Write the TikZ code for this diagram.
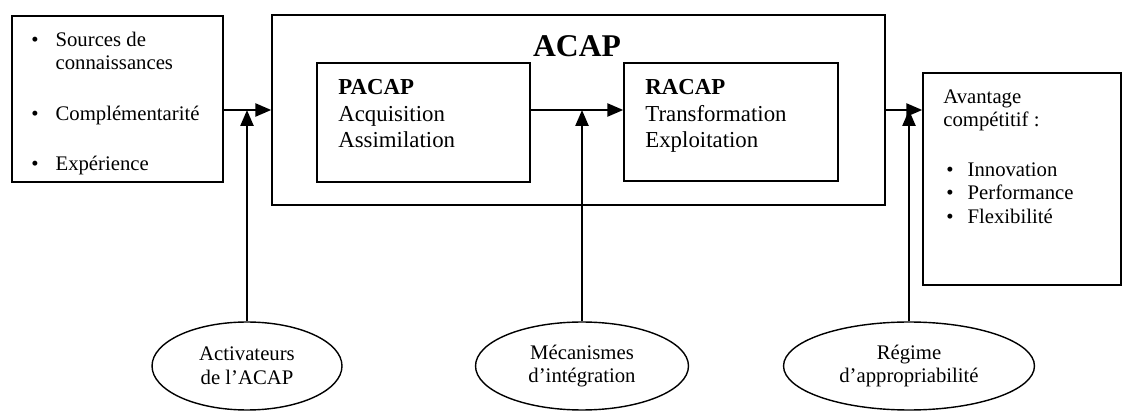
\documentclass[tikz,border=0pt]{standalone}
\usepackage{fontspec}
\setmainfont{Liberation Serif}
\usetikzlibrary{arrows.meta,positioning,shapes.geometric,fit}

\begin{document}
\begin{tikzpicture}[
  x=0.02cm, y=-0.02cm,
  box/.style={draw=black,line width=0.8pt,inner sep=0pt},
  oval/.style={draw=black,line width=0.8pt,ellipse,minimum height=1.76cm,align=center,
    inner sep=0pt,font=\fontsize{11.8}{13.6}\selectfont},
  txt/.style={anchor=north west,inner sep=0pt,font=\fontsize{11.8}{13.6}\selectfont},
  arrow/.style={-{Triangle[length=3.2mm,width=2.6mm]},line width=1.4pt}
]
\useasboundingbox (0,0) rectangle (1125,411);

% boxes
\node[box,fit={(12,16) (223,182)}] (src) {};
\node[box,fit={(272,15) (885,205)}] (acap) {};
\node[box,fit={(317,63) (530,182)}] (pacap) {};
\node[box,fit={(624,63) (838,181)}] (racap) {};
\node[box,fit={(923,73) (1121,285)}] (adv) {};

% texts in the boxes
\node[txt] (srctxt) at (31,29) {\begin{tabular}{@{}l@{\hspace{0.34cm}}l@{}}
  \textbullet & Sources de\\
              & connaissances\\[15pt]
  \textbullet & Complémentarité\\[15pt]
  \textbullet & Expérience
\end{tabular}};
\node[font=\bfseries\fontsize{18}{20}\selectfont,anchor=base,inner sep=0pt] (acaplbl) at (577,57) {ACAP};
\node[txt,font=\fontsize{13}{15.3}\selectfont] (pacaptxt) at (338,75) {\begin{tabular}{@{}l@{}}
  \textbf{PACAP}\\ Acquisition\\ Assimilation
\end{tabular}};
\node[txt,font=\fontsize{13}{15.3}\selectfont] (racaptxt) at (645,75) {\begin{tabular}{@{}l@{}}
  \textbf{RACAP}\\ Transformation\\ Exploitation
\end{tabular}};
\node[txt] (advhead) at (943,86) {\begin{tabular}{@{}l@{}}
  Avantage\\ compétitif :
\end{tabular}};
\node[txt] (advlist) at (946,159) {\begin{tabular}{@{}l@{\hspace{0.28cm}}l@{}}
  \textbullet & Innovation\\
  \textbullet & Performance\\
  \textbullet & Flexibilité
\end{tabular}};

% ellipses
\node[oval,minimum width=3.8cm] (act) at (247,366) {Activateurs\\de l’ACAP};
\node[oval,minimum width=4.26cm] (meca) at (582,366) {Mécanismes\\d’intégration};
\node[oval,minimum width=5.02cm] (reg) at (909,366) {Régime\\d’appropriabilité};

% arrows
\draw[arrow] (src.east |- acap.west) -- (acap.west);
\draw[arrow] (act.north) -- (act.north |- acap.west);
\draw[arrow] (pacap.east |- acap.west) -- (racap.west |- acap.west);
\draw[arrow] (meca.north) -- (meca.north |- acap.west);
\draw[arrow] (acap.east) -- (adv.west |- acap.east);
\draw[arrow] (reg.north) -- (reg.north |- acap.east);
\end{tikzpicture}
\end{document}
